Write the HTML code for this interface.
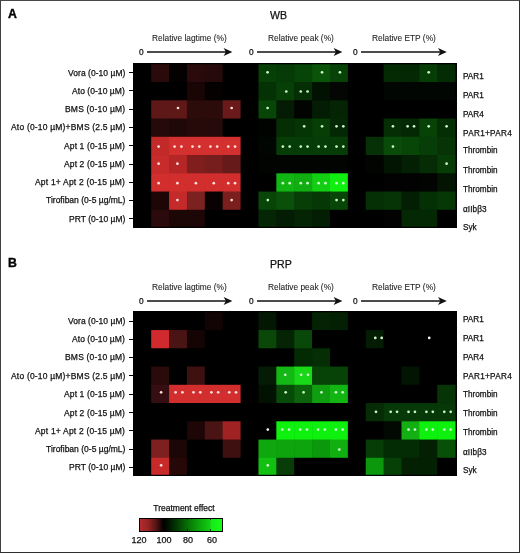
<!DOCTYPE html>
<html><head><meta charset="utf-8"><style>
html,body{margin:0;padding:0;background:#fff;}
body{width:520px;height:553px;position:relative;overflow:hidden;font-family:"Liberation Sans", sans-serif;color:#111;}
.frame{position:absolute;left:0;top:0;width:518px;height:551px;border:1px solid #2e2e2e;border-left-color:#404040;border-top-color:#484848;}
.t{position:absolute;white-space:nowrap;will-change:transform;-webkit-text-stroke:0.25px currentColor;}
.ar{position:absolute;overflow:visible;}
.hm{position:absolute;display:block;filter:blur(0.35px);}
.tk{position:absolute;left:129.2px;width:3.8px;height:1px;background:#000;}
.cb{position:absolute;left:138.7px;top:517.7px;width:82.6px;height:12px;border:1px solid #000;
background:linear-gradient(to right,#b42a2e 0%,#952323 10%,#521313 20%,#000 29%,#033a03 45%,#067006 58%,#0ca40c 72%,#12cc12 85%,#18e818 87%,#14ff14 100%);}
.cbt{position:absolute;width:1px;height:1.6px;background:rgba(0,0,0,0.7);}
</style></head><body>
<div class="frame"></div>
<div class="t" style="-webkit-text-stroke:0.35px #000;top:8.09px;font-size:12.3px;line-height:12.3px;font-weight:bold;color:#000;left:8.00px;">A</div>
<div class="t" style="top:10.13px;font-size:10.6px;line-height:10.6px;left:269.60px;">WB</div>
<div class="t" style="-webkit-text-stroke:0.08px #222;color:#222;top:34.13px;font-size:8.35px;line-height:8.35px;left:152.30px;">Relative lagtime (%)</div>
<div class="t" style="top:48.07px;font-size:8.3px;line-height:8.3px;left:138.60px;">0</div>
<svg class="ar" style="left:147.10px;top:47.20px" width="85.90" height="10" viewBox="0 0 85.90 10"><line x1="0" y1="5" x2="80.90" y2="5" stroke="#111" stroke-width="1.4"/><path d="M85.40 5 L76.60 0.9 L78.90 5 L76.60 9.1 Z" fill="#111"/></svg>
<div class="t" style="-webkit-text-stroke:0.08px #222;color:#222;top:34.13px;font-size:8.35px;line-height:8.35px;left:267.50px;">Relative peak (%)</div>
<div class="t" style="top:48.07px;font-size:8.3px;line-height:8.3px;left:248.90px;">0</div>
<svg class="ar" style="left:257.40px;top:47.20px" width="85.90" height="10" viewBox="0 0 85.90 10"><line x1="0" y1="5" x2="80.90" y2="5" stroke="#111" stroke-width="1.4"/><path d="M85.40 5 L76.60 0.9 L78.90 5 L76.60 9.1 Z" fill="#111"/></svg>
<div class="t" style="-webkit-text-stroke:0.08px #222;color:#222;top:34.13px;font-size:8.35px;line-height:8.35px;left:372.30px;">Relative ETP (%)</div>
<div class="t" style="top:48.07px;font-size:8.3px;line-height:8.3px;left:352.60px;">0</div>
<svg class="ar" style="left:361.10px;top:47.20px" width="86.30" height="10" viewBox="0 0 86.30 10"><line x1="0" y1="5" x2="81.30" y2="5" stroke="#111" stroke-width="1.4"/><path d="M85.80 5 L77.00 0.9 L79.30 5 L77.00 9.1 Z" fill="#111"/></svg>
<svg class="hm" style="left:133.0px;top:62.70px" width="324.00" height="165.10" viewBox="0 0 324.00 165.10"><rect x="0" y="0" width="324.00" height="165.10" fill="#000"/><rect x="0.30" y="0.80" width="18.48" height="18.85" fill="#000"/><rect x="18.18" y="0.80" width="18.48" height="18.85" fill="#2a0a0a"/><rect x="36.06" y="0.80" width="18.48" height="18.85" fill="#050101"/><rect x="53.94" y="0.80" width="18.48" height="18.85" fill="#2a0a0a"/><rect x="71.82" y="0.80" width="18.48" height="18.85" fill="#260a0a"/><rect x="89.70" y="0.80" width="18.48" height="18.85" fill="#000"/><rect x="107.58" y="0.80" width="18.48" height="18.85" fill="#000"/><rect x="125.46" y="0.80" width="18.48" height="18.85" fill="#074007"/><rect x="143.34" y="0.80" width="18.48" height="18.85" fill="#063a06"/><rect x="161.22" y="0.80" width="18.48" height="18.85" fill="#074407"/><rect x="179.10" y="0.80" width="18.48" height="18.85" fill="#095409"/><rect x="196.98" y="0.80" width="18.48" height="18.85" fill="#074207"/><rect x="214.86" y="0.80" width="18.48" height="18.85" fill="#000"/><rect x="232.74" y="0.80" width="18.48" height="18.85" fill="#000"/><rect x="250.62" y="0.80" width="18.48" height="18.85" fill="#042a04"/><rect x="268.50" y="0.80" width="18.48" height="18.85" fill="#042804"/><rect x="286.38" y="0.80" width="18.48" height="18.85" fill="#063c06"/><rect x="304.26" y="0.80" width="18.48" height="18.85" fill="#042c04"/><rect x="0.30" y="19.05" width="18.48" height="18.85" fill="#000"/><rect x="18.18" y="19.05" width="18.48" height="18.85" fill="#000"/><rect x="36.06" y="19.05" width="18.48" height="18.85" fill="#000"/><rect x="53.94" y="19.05" width="18.48" height="18.85" fill="#1a0505"/><rect x="71.82" y="19.05" width="18.48" height="18.85" fill="#050101"/><rect x="89.70" y="19.05" width="18.48" height="18.85" fill="#000"/><rect x="107.58" y="19.05" width="18.48" height="18.85" fill="#000"/><rect x="125.46" y="19.05" width="18.48" height="18.85" fill="#053205"/><rect x="143.34" y="19.05" width="18.48" height="18.85" fill="#074007"/><rect x="161.22" y="19.05" width="18.48" height="18.85" fill="#052e05"/><rect x="179.10" y="19.05" width="18.48" height="18.85" fill="#021202"/><rect x="196.98" y="19.05" width="18.48" height="18.85" fill="#040604"/><rect x="214.86" y="19.05" width="18.48" height="18.85" fill="#000"/><rect x="232.74" y="19.05" width="18.48" height="18.85" fill="#000"/><rect x="250.62" y="19.05" width="18.48" height="18.85" fill="#020602"/><rect x="268.50" y="19.05" width="18.48" height="18.85" fill="#020602"/><rect x="286.38" y="19.05" width="18.48" height="18.85" fill="#020602"/><rect x="304.26" y="19.05" width="18.48" height="18.85" fill="#020602"/><rect x="0.30" y="37.30" width="18.48" height="18.85" fill="#000"/><rect x="18.18" y="37.30" width="18.48" height="18.85" fill="#5e1818"/><rect x="36.06" y="37.30" width="18.48" height="18.85" fill="#5e1818"/><rect x="53.94" y="37.30" width="18.48" height="18.85" fill="#2c0b0b"/><rect x="71.82" y="37.30" width="18.48" height="18.85" fill="#2c0b0b"/><rect x="89.70" y="37.30" width="18.48" height="18.85" fill="#6a1a1a"/><rect x="107.58" y="37.30" width="18.48" height="18.85" fill="#000"/><rect x="125.46" y="37.30" width="18.48" height="18.85" fill="#074607"/><rect x="143.34" y="37.30" width="18.48" height="18.85" fill="#031c03"/><rect x="161.22" y="37.30" width="18.48" height="18.85" fill="#010401"/><rect x="179.10" y="37.30" width="18.48" height="18.85" fill="#031c03"/><rect x="196.98" y="37.30" width="18.48" height="18.85" fill="#042404"/><rect x="214.86" y="37.30" width="18.48" height="18.85" fill="#000"/><rect x="232.74" y="37.30" width="18.48" height="18.85" fill="#000"/><rect x="250.62" y="37.30" width="18.48" height="18.85" fill="#000"/><rect x="268.50" y="37.30" width="18.48" height="18.85" fill="#000"/><rect x="286.38" y="37.30" width="18.48" height="18.85" fill="#000"/><rect x="304.26" y="37.30" width="18.48" height="18.85" fill="#000"/><rect x="0.30" y="55.55" width="18.48" height="18.85" fill="#000"/><rect x="18.18" y="55.55" width="18.48" height="18.85" fill="#260a0a"/><rect x="36.06" y="55.55" width="18.48" height="18.85" fill="#200808"/><rect x="53.94" y="55.55" width="18.48" height="18.85" fill="#260a0a"/><rect x="71.82" y="55.55" width="18.48" height="18.85" fill="#260a0a"/><rect x="89.70" y="55.55" width="18.48" height="18.85" fill="#000"/><rect x="107.58" y="55.55" width="18.48" height="18.85" fill="#000"/><rect x="125.46" y="55.55" width="18.48" height="18.85" fill="#010301"/><rect x="143.34" y="55.55" width="18.48" height="18.85" fill="#052e05"/><rect x="161.22" y="55.55" width="18.48" height="18.85" fill="#053405"/><rect x="179.10" y="55.55" width="18.48" height="18.85" fill="#063e06"/><rect x="196.98" y="55.55" width="18.48" height="18.85" fill="#042804"/><rect x="214.86" y="55.55" width="18.48" height="18.85" fill="#000"/><rect x="232.74" y="55.55" width="18.48" height="18.85" fill="#000"/><rect x="250.62" y="55.55" width="18.48" height="18.85" fill="#052e05"/><rect x="268.50" y="55.55" width="18.48" height="18.85" fill="#042804"/><rect x="286.38" y="55.55" width="18.48" height="18.85" fill="#074207"/><rect x="304.26" y="55.55" width="18.48" height="18.85" fill="#052e05"/><rect x="0.30" y="73.80" width="18.48" height="18.85" fill="#000"/><rect x="18.18" y="73.80" width="18.48" height="18.85" fill="#c22a2a"/><rect x="36.06" y="73.80" width="18.48" height="18.85" fill="#d43030"/><rect x="53.94" y="73.80" width="18.48" height="18.85" fill="#d43030"/><rect x="71.82" y="73.80" width="18.48" height="18.85" fill="#d43030"/><rect x="89.70" y="73.80" width="18.48" height="18.85" fill="#d43030"/><rect x="107.58" y="73.80" width="18.48" height="18.85" fill="#000"/><rect x="125.46" y="73.80" width="18.48" height="18.85" fill="#020602"/><rect x="143.34" y="73.80" width="18.48" height="18.85" fill="#063c06"/><rect x="161.22" y="73.80" width="18.48" height="18.85" fill="#063c06"/><rect x="179.10" y="73.80" width="18.48" height="18.85" fill="#063c06"/><rect x="196.98" y="73.80" width="18.48" height="18.85" fill="#063c06"/><rect x="214.86" y="73.80" width="18.48" height="18.85" fill="#000"/><rect x="232.74" y="73.80" width="18.48" height="18.85" fill="#063006"/><rect x="250.62" y="73.80" width="18.48" height="18.85" fill="#094c09"/><rect x="268.50" y="73.80" width="18.48" height="18.85" fill="#084608"/><rect x="286.38" y="73.80" width="18.48" height="18.85" fill="#073e07"/><rect x="304.26" y="73.80" width="18.48" height="18.85" fill="#063406"/><rect x="0.30" y="92.05" width="18.48" height="18.85" fill="#000"/><rect x="18.18" y="92.05" width="18.48" height="18.85" fill="#c82b2b"/><rect x="36.06" y="92.05" width="18.48" height="18.85" fill="#b52727"/><rect x="53.94" y="92.05" width="18.48" height="18.85" fill="#801d1d"/><rect x="71.82" y="92.05" width="18.48" height="18.85" fill="#761e1e"/><rect x="89.70" y="92.05" width="18.48" height="18.85" fill="#661a1a"/><rect x="107.58" y="92.05" width="18.48" height="18.85" fill="#000"/><rect x="125.46" y="92.05" width="18.48" height="18.85" fill="#010401"/><rect x="143.34" y="92.05" width="18.48" height="18.85" fill="#010401"/><rect x="161.22" y="92.05" width="18.48" height="18.85" fill="#010401"/><rect x="179.10" y="92.05" width="18.48" height="18.85" fill="#010401"/><rect x="196.98" y="92.05" width="18.48" height="18.85" fill="#010401"/><rect x="214.86" y="92.05" width="18.48" height="18.85" fill="#000"/><rect x="232.74" y="92.05" width="18.48" height="18.85" fill="#010401"/><rect x="250.62" y="92.05" width="18.48" height="18.85" fill="#021402"/><rect x="268.50" y="92.05" width="18.48" height="18.85" fill="#042004"/><rect x="286.38" y="92.05" width="18.48" height="18.85" fill="#062c06"/><rect x="304.26" y="92.05" width="18.48" height="18.85" fill="#073c07"/><rect x="0.30" y="110.30" width="18.48" height="18.85" fill="#000"/><rect x="18.18" y="110.30" width="18.48" height="18.85" fill="#d22e2e"/><rect x="36.06" y="110.30" width="18.48" height="18.85" fill="#d22e2e"/><rect x="53.94" y="110.30" width="18.48" height="18.85" fill="#d22e2e"/><rect x="71.82" y="110.30" width="18.48" height="18.85" fill="#d22e2e"/><rect x="89.70" y="110.30" width="18.48" height="18.85" fill="#d22e2e"/><rect x="107.58" y="110.30" width="18.48" height="18.85" fill="#000"/><rect x="125.46" y="110.30" width="18.48" height="18.85" fill="#000"/><rect x="143.34" y="110.30" width="18.48" height="18.85" fill="#12b612"/><rect x="161.22" y="110.30" width="18.48" height="18.85" fill="#10ae10"/><rect x="179.10" y="110.30" width="18.48" height="18.85" fill="#14ce14"/><rect x="196.98" y="110.30" width="18.48" height="18.85" fill="#10f010"/><rect x="214.86" y="110.30" width="18.48" height="18.85" fill="#000"/><rect x="232.74" y="110.30" width="18.48" height="18.85" fill="#000"/><rect x="250.62" y="110.30" width="18.48" height="18.85" fill="#010201"/><rect x="268.50" y="110.30" width="18.48" height="18.85" fill="#010201"/><rect x="286.38" y="110.30" width="18.48" height="18.85" fill="#010401"/><rect x="304.26" y="110.30" width="18.48" height="18.85" fill="#031403"/><rect x="0.30" y="128.55" width="18.48" height="18.85" fill="#000"/><rect x="18.18" y="128.55" width="18.48" height="18.85" fill="#1e0606"/><rect x="36.06" y="128.55" width="18.48" height="18.85" fill="#c42a2a"/><rect x="53.94" y="128.55" width="18.48" height="18.85" fill="#7c2020"/><rect x="71.82" y="128.55" width="18.48" height="18.85" fill="#0a0202"/><rect x="89.70" y="128.55" width="18.48" height="18.85" fill="#7a1e1e"/><rect x="107.58" y="128.55" width="18.48" height="18.85" fill="#000"/><rect x="125.46" y="128.55" width="18.48" height="18.85" fill="#084608"/><rect x="143.34" y="128.55" width="18.48" height="18.85" fill="#0a500a"/><rect x="161.22" y="128.55" width="18.48" height="18.85" fill="#073e07"/><rect x="179.10" y="128.55" width="18.48" height="18.85" fill="#063806"/><rect x="196.98" y="128.55" width="18.48" height="18.85" fill="#084608"/><rect x="214.86" y="128.55" width="18.48" height="18.85" fill="#000"/><rect x="232.74" y="128.55" width="18.48" height="18.85" fill="#053005"/><rect x="250.62" y="128.55" width="18.48" height="18.85" fill="#063406"/><rect x="268.50" y="128.55" width="18.48" height="18.85" fill="#041e04"/><rect x="286.38" y="128.55" width="18.48" height="18.85" fill="#053005"/><rect x="304.26" y="128.55" width="18.48" height="18.85" fill="#063806"/><rect x="0.30" y="146.80" width="18.48" height="18.85" fill="#000"/><rect x="18.18" y="146.80" width="18.48" height="18.85" fill="#2a0a0a"/><rect x="36.06" y="146.80" width="18.48" height="18.85" fill="#1c0606"/><rect x="53.94" y="146.80" width="18.48" height="18.85" fill="#1c0606"/><rect x="71.82" y="146.80" width="18.48" height="18.85" fill="#000"/><rect x="89.70" y="146.80" width="18.48" height="18.85" fill="#000"/><rect x="107.58" y="146.80" width="18.48" height="18.85" fill="#000"/><rect x="125.46" y="146.80" width="18.48" height="18.85" fill="#042604"/><rect x="143.34" y="146.80" width="18.48" height="18.85" fill="#031c03"/><rect x="161.22" y="146.80" width="18.48" height="18.85" fill="#042404"/><rect x="179.10" y="146.80" width="18.48" height="18.85" fill="#031e03"/><rect x="196.98" y="146.80" width="18.48" height="18.85" fill="#000"/><rect x="214.86" y="146.80" width="18.48" height="18.85" fill="#000"/><rect x="232.74" y="146.80" width="18.48" height="18.85" fill="#000"/><rect x="250.62" y="146.80" width="18.48" height="18.85" fill="#010201"/><rect x="268.50" y="146.80" width="18.48" height="18.85" fill="#042804"/><rect x="286.38" y="146.80" width="18.48" height="18.85" fill="#042804"/><rect x="304.26" y="146.80" width="18.48" height="18.85" fill="#000"/><rect x="0.65" y="0.65" width="322.70" height="163.80" fill="none" stroke="#000" stroke-width="1.3"/><circle cx="134.60" cy="9.30" r="1.35" fill="#cdf5cd"/><circle cx="189.04" cy="9.30" r="1.35" fill="#cdf5cd"/><circle cx="206.92" cy="9.30" r="1.35" fill="#cdf5cd"/><circle cx="295.72" cy="9.30" r="1.35" fill="#cdf5cd"/><circle cx="153.28" cy="28.50" r="1.35" fill="#cdf5cd"/><circle cx="167.76" cy="28.50" r="1.35" fill="#cdf5cd"/><circle cx="174.56" cy="28.50" r="1.35" fill="#cdf5cd"/><circle cx="45.00" cy="45.00" r="1.35" fill="#ffdede"/><circle cx="98.64" cy="45.00" r="1.35" fill="#ffdede"/><circle cx="134.60" cy="45.00" r="1.35" fill="#cdf5cd"/><circle cx="171.16" cy="63.30" r="1.35" fill="#cdf5cd"/><circle cx="189.04" cy="63.30" r="1.35" fill="#cdf5cd"/><circle cx="203.52" cy="63.30" r="1.35" fill="#cdf5cd"/><circle cx="210.32" cy="63.30" r="1.35" fill="#cdf5cd"/><circle cx="259.96" cy="63.30" r="1.35" fill="#cdf5cd"/><circle cx="274.64" cy="63.30" r="1.35" fill="#cdf5cd"/><circle cx="281.04" cy="63.30" r="1.35" fill="#cdf5cd"/><circle cx="295.72" cy="63.30" r="1.35" fill="#cdf5cd"/><circle cx="313.60" cy="63.30" r="1.35" fill="#cdf5cd"/><circle cx="25.62" cy="83.60" r="1.35" fill="#ffdede"/><circle cx="41.60" cy="83.60" r="1.35" fill="#ffdede"/><circle cx="48.40" cy="83.60" r="1.35" fill="#ffdede"/><circle cx="59.48" cy="83.60" r="1.35" fill="#ffdede"/><circle cx="66.28" cy="83.60" r="1.35" fill="#ffdede"/><circle cx="77.36" cy="83.60" r="1.35" fill="#ffdede"/><circle cx="84.16" cy="83.60" r="1.35" fill="#ffdede"/><circle cx="95.24" cy="83.60" r="1.35" fill="#ffdede"/><circle cx="102.04" cy="83.60" r="1.35" fill="#ffdede"/><circle cx="149.88" cy="83.60" r="1.35" fill="#cdf5cd"/><circle cx="156.68" cy="83.60" r="1.35" fill="#cdf5cd"/><circle cx="167.76" cy="83.60" r="1.35" fill="#cdf5cd"/><circle cx="174.56" cy="83.60" r="1.35" fill="#cdf5cd"/><circle cx="185.64" cy="83.60" r="1.35" fill="#cdf5cd"/><circle cx="192.44" cy="83.60" r="1.35" fill="#cdf5cd"/><circle cx="203.52" cy="83.60" r="1.35" fill="#cdf5cd"/><circle cx="210.32" cy="83.60" r="1.35" fill="#cdf5cd"/><circle cx="259.96" cy="83.60" r="1.35" fill="#cdf5cd"/><circle cx="25.62" cy="100.70" r="1.35" fill="#ffdede"/><circle cx="44.40" cy="100.70" r="1.35" fill="#ffdede"/><circle cx="313.60" cy="100.70" r="1.35" fill="#cdf5cd"/><circle cx="25.62" cy="120.20" r="1.35" fill="#ffdede"/><circle cx="44.40" cy="120.20" r="1.35" fill="#ffdede"/><circle cx="62.88" cy="120.20" r="1.35" fill="#ffdede"/><circle cx="80.76" cy="120.20" r="1.35" fill="#ffdede"/><circle cx="95.24" cy="120.20" r="1.35" fill="#ffdede"/><circle cx="102.04" cy="120.20" r="1.35" fill="#ffdede"/><circle cx="149.88" cy="120.20" r="1.35" fill="#cdf5cd"/><circle cx="156.68" cy="120.20" r="1.35" fill="#cdf5cd"/><circle cx="167.76" cy="120.20" r="1.35" fill="#cdf5cd"/><circle cx="174.56" cy="120.20" r="1.35" fill="#cdf5cd"/><circle cx="185.64" cy="120.20" r="1.35" fill="#cdf5cd"/><circle cx="192.44" cy="120.20" r="1.35" fill="#cdf5cd"/><circle cx="203.52" cy="120.20" r="1.35" fill="#cdf5cd"/><circle cx="210.32" cy="120.20" r="1.35" fill="#cdf5cd"/><circle cx="44.40" cy="137.10" r="1.35" fill="#ffdede"/><circle cx="98.64" cy="137.10" r="1.35" fill="#ffdede"/><circle cx="134.80" cy="137.10" r="1.35" fill="#cdf5cd"/><circle cx="203.52" cy="137.10" r="1.35" fill="#cdf5cd"/><circle cx="210.32" cy="137.10" r="1.35" fill="#cdf5cd"/></svg>
<div class="tk" style="top:72px"></div>
<div class="t" style="top:68.60px;font-size:8.5px;line-height:8.5px;letter-spacing:0.04px;right:394.96px;text-align:right;">Vora (0-10 µM)</div>
<div class="t" style="top:72.86px;font-size:8.2px;line-height:8.2px;left:462.80px;">PAR1</div>
<div class="tk" style="top:90px"></div>
<div class="t" style="top:86.80px;font-size:8.5px;line-height:8.5px;letter-spacing:0.05px;right:394.95px;text-align:right;">Ato (0-10 µM)</div>
<div class="t" style="top:91.66px;font-size:8.2px;line-height:8.2px;left:462.80px;">PAR1</div>
<div class="tk" style="top:109px"></div>
<div class="t" style="top:104.90px;font-size:8.5px;line-height:8.5px;letter-spacing:0.2px;right:394.80px;text-align:right;">BMS (0-10 µM)</div>
<div class="t" style="top:110.66px;font-size:8.2px;line-height:8.2px;left:462.80px;">PAR4</div>
<div class="tk" style="top:127px"></div>
<div class="t" style="top:123.10px;font-size:8.5px;line-height:8.5px;letter-spacing:0.19px;right:394.81px;text-align:right;">Ato (0-10 µM)+BMS (2.5 µM)</div>
<div class="t" style="top:129.56px;font-size:8.2px;line-height:8.2px;letter-spacing:0.3px;left:462.80px;">PAR1+PAR4</div>
<div class="tk" style="top:145px"></div>
<div class="t" style="top:141.60px;font-size:8.5px;line-height:8.5px;letter-spacing:0.12px;right:394.88px;text-align:right;">Apt 1 (0-15 µM)</div>
<div class="t" style="top:147.36px;font-size:8.2px;line-height:8.2px;left:462.80px;">Thrombin</div>
<div class="tk" style="top:164px"></div>
<div class="t" style="top:160.00px;font-size:8.5px;line-height:8.5px;letter-spacing:0.12px;right:394.88px;text-align:right;">Apt 2 (0-15 µM)</div>
<div class="t" style="top:166.76px;font-size:8.2px;line-height:8.2px;left:462.80px;">Thrombin</div>
<div class="tk" style="top:182px"></div>
<div class="t" style="top:178.30px;font-size:8.5px;line-height:8.5px;letter-spacing:0.19px;right:394.81px;text-align:right;">Apt 1+ Apt 2 (0-15 µM)</div>
<div class="t" style="top:186.46px;font-size:8.2px;line-height:8.2px;left:462.80px;">Thrombin</div>
<div class="tk" style="top:200px"></div>
<div class="t" style="top:196.40px;font-size:8.5px;line-height:8.5px;letter-spacing:0.01px;right:394.99px;text-align:right;">Tirofiban (0-5 µg/mL)</div>
<div class="t" style="top:205.86px;font-size:8.2px;line-height:8.2px;letter-spacing:0.08px;left:462.80px;">αIIbβ3</div>
<div class="tk" style="top:218px"></div>
<div class="t" style="top:214.70px;font-size:8.5px;line-height:8.5px;letter-spacing:0.03px;right:394.97px;text-align:right;">PRT (0-10 µM)</div>
<div class="t" style="top:224.26px;font-size:8.2px;line-height:8.2px;left:462.80px;">Syk</div>
<div class="t" style="-webkit-text-stroke:0.35px #000;top:256.59px;font-size:12.3px;line-height:12.3px;font-weight:bold;color:#000;left:8.00px;">B</div>
<div class="t" style="top:258.63px;font-size:10.6px;line-height:10.6px;left:269.60px;">PRP</div>
<div class="t" style="-webkit-text-stroke:0.08px #222;color:#222;top:282.63px;font-size:8.35px;line-height:8.35px;left:152.30px;">Relative lagtime (%)</div>
<div class="t" style="top:296.57px;font-size:8.3px;line-height:8.3px;left:138.60px;">0</div>
<svg class="ar" style="left:147.10px;top:295.70px" width="85.90" height="10" viewBox="0 0 85.90 10"><line x1="0" y1="5" x2="80.90" y2="5" stroke="#111" stroke-width="1.4"/><path d="M85.40 5 L76.60 0.9 L78.90 5 L76.60 9.1 Z" fill="#111"/></svg>
<div class="t" style="-webkit-text-stroke:0.08px #222;color:#222;top:282.63px;font-size:8.35px;line-height:8.35px;left:267.50px;">Relative peak (%)</div>
<div class="t" style="top:296.57px;font-size:8.3px;line-height:8.3px;left:248.90px;">0</div>
<svg class="ar" style="left:257.40px;top:295.70px" width="85.90" height="10" viewBox="0 0 85.90 10"><line x1="0" y1="5" x2="80.90" y2="5" stroke="#111" stroke-width="1.4"/><path d="M85.40 5 L76.60 0.9 L78.90 5 L76.60 9.1 Z" fill="#111"/></svg>
<div class="t" style="-webkit-text-stroke:0.08px #222;color:#222;top:282.63px;font-size:8.35px;line-height:8.35px;left:372.30px;">Relative ETP (%)</div>
<div class="t" style="top:296.57px;font-size:8.3px;line-height:8.3px;left:352.60px;">0</div>
<svg class="ar" style="left:361.10px;top:295.70px" width="86.30" height="10" viewBox="0 0 86.30 10"><line x1="0" y1="5" x2="81.30" y2="5" stroke="#111" stroke-width="1.4"/><path d="M85.80 5 L77.00 0.9 L79.30 5 L77.00 9.1 Z" fill="#111"/></svg>
<svg class="hm" style="left:133.0px;top:311.20px" width="324.00" height="165.10" viewBox="0 0 324.00 165.10"><rect x="0" y="0" width="324.00" height="165.10" fill="#000"/><rect x="0.30" y="0.80" width="18.48" height="18.85" fill="#000"/><rect x="18.18" y="0.80" width="18.48" height="18.85" fill="#000"/><rect x="36.06" y="0.80" width="18.48" height="18.85" fill="#000"/><rect x="53.94" y="0.80" width="18.48" height="18.85" fill="#000"/><rect x="71.82" y="0.80" width="18.48" height="18.85" fill="#120404"/><rect x="89.70" y="0.80" width="18.48" height="18.85" fill="#000"/><rect x="107.58" y="0.80" width="18.48" height="18.85" fill="#000"/><rect x="125.46" y="0.80" width="18.48" height="18.85" fill="#031803"/><rect x="143.34" y="0.80" width="18.48" height="18.85" fill="#000"/><rect x="161.22" y="0.80" width="18.48" height="18.85" fill="#000"/><rect x="179.10" y="0.80" width="18.48" height="18.85" fill="#042204"/><rect x="196.98" y="0.80" width="18.48" height="18.85" fill="#042004"/><rect x="214.86" y="0.80" width="18.48" height="18.85" fill="#000"/><rect x="232.74" y="0.80" width="18.48" height="18.85" fill="#000"/><rect x="250.62" y="0.80" width="18.48" height="18.85" fill="#000"/><rect x="268.50" y="0.80" width="18.48" height="18.85" fill="#000"/><rect x="286.38" y="0.80" width="18.48" height="18.85" fill="#000"/><rect x="304.26" y="0.80" width="18.48" height="18.85" fill="#000"/><rect x="0.30" y="19.05" width="18.48" height="18.85" fill="#000"/><rect x="18.18" y="19.05" width="18.48" height="18.85" fill="#d02a2e"/><rect x="36.06" y="19.05" width="18.48" height="18.85" fill="#4a1414"/><rect x="53.94" y="19.05" width="18.48" height="18.85" fill="#140404"/><rect x="71.82" y="19.05" width="18.48" height="18.85" fill="#000"/><rect x="89.70" y="19.05" width="18.48" height="18.85" fill="#000"/><rect x="107.58" y="19.05" width="18.48" height="18.85" fill="#000"/><rect x="125.46" y="19.05" width="18.48" height="18.85" fill="#094809"/><rect x="143.34" y="19.05" width="18.48" height="18.85" fill="#042404"/><rect x="161.22" y="19.05" width="18.48" height="18.85" fill="#094809"/><rect x="179.10" y="19.05" width="18.48" height="18.85" fill="#000"/><rect x="196.98" y="19.05" width="18.48" height="18.85" fill="#000"/><rect x="214.86" y="19.05" width="18.48" height="18.85" fill="#000"/><rect x="232.74" y="19.05" width="18.48" height="18.85" fill="#031c03"/><rect x="250.62" y="19.05" width="18.48" height="18.85" fill="#000"/><rect x="268.50" y="19.05" width="18.48" height="18.85" fill="#000"/><rect x="286.38" y="19.05" width="18.48" height="18.85" fill="#000"/><rect x="304.26" y="19.05" width="18.48" height="18.85" fill="#000"/><rect x="0.30" y="37.30" width="18.48" height="18.85" fill="#000"/><rect x="18.18" y="37.30" width="18.48" height="18.85" fill="#000"/><rect x="36.06" y="37.30" width="18.48" height="18.85" fill="#000"/><rect x="53.94" y="37.30" width="18.48" height="18.85" fill="#000"/><rect x="71.82" y="37.30" width="18.48" height="18.85" fill="#000"/><rect x="89.70" y="37.30" width="18.48" height="18.85" fill="#000"/><rect x="107.58" y="37.30" width="18.48" height="18.85" fill="#000"/><rect x="125.46" y="37.30" width="18.48" height="18.85" fill="#000"/><rect x="143.34" y="37.30" width="18.48" height="18.85" fill="#000"/><rect x="161.22" y="37.30" width="18.48" height="18.85" fill="#042a04"/><rect x="179.10" y="37.30" width="18.48" height="18.85" fill="#052e05"/><rect x="196.98" y="37.30" width="18.48" height="18.85" fill="#000"/><rect x="214.86" y="37.30" width="18.48" height="18.85" fill="#000"/><rect x="232.74" y="37.30" width="18.48" height="18.85" fill="#000"/><rect x="250.62" y="37.30" width="18.48" height="18.85" fill="#000"/><rect x="268.50" y="37.30" width="18.48" height="18.85" fill="#000"/><rect x="286.38" y="37.30" width="18.48" height="18.85" fill="#000"/><rect x="304.26" y="37.30" width="18.48" height="18.85" fill="#000"/><rect x="0.30" y="55.55" width="18.48" height="18.85" fill="#000"/><rect x="18.18" y="55.55" width="18.48" height="18.85" fill="#2a0a0a"/><rect x="36.06" y="55.55" width="18.48" height="18.85" fill="#000"/><rect x="53.94" y="55.55" width="18.48" height="18.85" fill="#3e1010"/><rect x="71.82" y="55.55" width="18.48" height="18.85" fill="#000"/><rect x="89.70" y="55.55" width="18.48" height="18.85" fill="#000"/><rect x="107.58" y="55.55" width="18.48" height="18.85" fill="#000"/><rect x="125.46" y="55.55" width="18.48" height="18.85" fill="#041c04"/><rect x="143.34" y="55.55" width="18.48" height="18.85" fill="#14b814"/><rect x="161.22" y="55.55" width="18.48" height="18.85" fill="#18d818"/><rect x="179.10" y="55.55" width="18.48" height="18.85" fill="#074207"/><rect x="196.98" y="55.55" width="18.48" height="18.85" fill="#074207"/><rect x="214.86" y="55.55" width="18.48" height="18.85" fill="#000"/><rect x="232.74" y="55.55" width="18.48" height="18.85" fill="#000"/><rect x="250.62" y="55.55" width="18.48" height="18.85" fill="#000"/><rect x="268.50" y="55.55" width="18.48" height="18.85" fill="#021402"/><rect x="286.38" y="55.55" width="18.48" height="18.85" fill="#000"/><rect x="304.26" y="55.55" width="18.48" height="18.85" fill="#000"/><rect x="0.30" y="73.80" width="18.48" height="18.85" fill="#000"/><rect x="18.18" y="73.80" width="18.48" height="18.85" fill="#360d10"/><rect x="36.06" y="73.80" width="18.48" height="18.85" fill="#d22e2e"/><rect x="53.94" y="73.80" width="18.48" height="18.85" fill="#d22e2e"/><rect x="71.82" y="73.80" width="18.48" height="18.85" fill="#d22e2e"/><rect x="89.70" y="73.80" width="18.48" height="18.85" fill="#d22e2e"/><rect x="107.58" y="73.80" width="18.48" height="18.85" fill="#000"/><rect x="125.46" y="73.80" width="18.48" height="18.85" fill="#021202"/><rect x="143.34" y="73.80" width="18.48" height="18.85" fill="#084a08"/><rect x="161.22" y="73.80" width="18.48" height="18.85" fill="#0b640b"/><rect x="179.10" y="73.80" width="18.48" height="18.85" fill="#0f9e0f"/><rect x="196.98" y="73.80" width="18.48" height="18.85" fill="#12b612"/><rect x="214.86" y="73.80" width="18.48" height="18.85" fill="#000"/><rect x="232.74" y="73.80" width="18.48" height="18.85" fill="#000"/><rect x="250.62" y="73.80" width="18.48" height="18.85" fill="#000"/><rect x="268.50" y="73.80" width="18.48" height="18.85" fill="#000"/><rect x="286.38" y="73.80" width="18.48" height="18.85" fill="#000"/><rect x="304.26" y="73.80" width="18.48" height="18.85" fill="#073407"/><rect x="0.30" y="92.05" width="18.48" height="18.85" fill="#000"/><rect x="18.18" y="92.05" width="18.48" height="18.85" fill="#000"/><rect x="36.06" y="92.05" width="18.48" height="18.85" fill="#000"/><rect x="53.94" y="92.05" width="18.48" height="18.85" fill="#000"/><rect x="71.82" y="92.05" width="18.48" height="18.85" fill="#000"/><rect x="89.70" y="92.05" width="18.48" height="18.85" fill="#000"/><rect x="107.58" y="92.05" width="18.48" height="18.85" fill="#000"/><rect x="125.46" y="92.05" width="18.48" height="18.85" fill="#000"/><rect x="143.34" y="92.05" width="18.48" height="18.85" fill="#000"/><rect x="161.22" y="92.05" width="18.48" height="18.85" fill="#000"/><rect x="179.10" y="92.05" width="18.48" height="18.85" fill="#000"/><rect x="196.98" y="92.05" width="18.48" height="18.85" fill="#000"/><rect x="214.86" y="92.05" width="18.48" height="18.85" fill="#000"/><rect x="232.74" y="92.05" width="18.48" height="18.85" fill="#052c05"/><rect x="250.62" y="92.05" width="18.48" height="18.85" fill="#073807"/><rect x="268.50" y="92.05" width="18.48" height="18.85" fill="#073807"/><rect x="286.38" y="92.05" width="18.48" height="18.85" fill="#073807"/><rect x="304.26" y="92.05" width="18.48" height="18.85" fill="#073807"/><rect x="0.30" y="110.30" width="18.48" height="18.85" fill="#000"/><rect x="18.18" y="110.30" width="18.48" height="18.85" fill="#000"/><rect x="36.06" y="110.30" width="18.48" height="18.85" fill="#000"/><rect x="53.94" y="110.30" width="18.48" height="18.85" fill="#1e0606"/><rect x="71.82" y="110.30" width="18.48" height="18.85" fill="#4a1414"/><rect x="89.70" y="110.30" width="18.48" height="18.85" fill="#a02222"/><rect x="107.58" y="110.30" width="18.48" height="18.85" fill="#000"/><rect x="125.46" y="110.30" width="18.48" height="18.85" fill="#000"/><rect x="143.34" y="110.30" width="18.48" height="18.85" fill="#0ef00e"/><rect x="161.22" y="110.30" width="18.48" height="18.85" fill="#0ef00e"/><rect x="179.10" y="110.30" width="18.48" height="18.85" fill="#0ef00e"/><rect x="196.98" y="110.30" width="18.48" height="18.85" fill="#0ef00e"/><rect x="214.86" y="110.30" width="18.48" height="18.85" fill="#000"/><rect x="232.74" y="110.30" width="18.48" height="18.85" fill="#000"/><rect x="250.62" y="110.30" width="18.48" height="18.85" fill="#020802"/><rect x="268.50" y="110.30" width="18.48" height="18.85" fill="#12b012"/><rect x="286.38" y="110.30" width="18.48" height="18.85" fill="#0ef00e"/><rect x="304.26" y="110.30" width="18.48" height="18.85" fill="#0ef00e"/><rect x="0.30" y="128.55" width="18.48" height="18.85" fill="#000"/><rect x="18.18" y="128.55" width="18.48" height="18.85" fill="#7e2020"/><rect x="36.06" y="128.55" width="18.48" height="18.85" fill="#1c0606"/><rect x="53.94" y="128.55" width="18.48" height="18.85" fill="#000"/><rect x="71.82" y="128.55" width="18.48" height="18.85" fill="#000"/><rect x="89.70" y="128.55" width="18.48" height="18.85" fill="#3e1010"/><rect x="107.58" y="128.55" width="18.48" height="18.85" fill="#000"/><rect x="125.46" y="128.55" width="18.48" height="18.85" fill="#0ea80e"/><rect x="143.34" y="128.55" width="18.48" height="18.85" fill="#0ea40e"/><rect x="161.22" y="128.55" width="18.48" height="18.85" fill="#0ea40e"/><rect x="179.10" y="128.55" width="18.48" height="18.85" fill="#0c980c"/><rect x="196.98" y="128.55" width="18.48" height="18.85" fill="#10b010"/><rect x="214.86" y="128.55" width="18.48" height="18.85" fill="#000"/><rect x="232.74" y="128.55" width="18.48" height="18.85" fill="#063c06"/><rect x="250.62" y="128.55" width="18.48" height="18.85" fill="#042c04"/><rect x="268.50" y="128.55" width="18.48" height="18.85" fill="#042c04"/><rect x="286.38" y="128.55" width="18.48" height="18.85" fill="#032003"/><rect x="304.26" y="128.55" width="18.48" height="18.85" fill="#085008"/><rect x="0.30" y="146.80" width="18.48" height="18.85" fill="#000"/><rect x="18.18" y="146.80" width="18.48" height="18.85" fill="#c82a2a"/><rect x="36.06" y="146.80" width="18.48" height="18.85" fill="#260808"/><rect x="53.94" y="146.80" width="18.48" height="18.85" fill="#000"/><rect x="71.82" y="146.80" width="18.48" height="18.85" fill="#000"/><rect x="89.70" y="146.80" width="18.48" height="18.85" fill="#000"/><rect x="107.58" y="146.80" width="18.48" height="18.85" fill="#000"/><rect x="125.46" y="146.80" width="18.48" height="18.85" fill="#12c012"/><rect x="143.34" y="146.80" width="18.48" height="18.85" fill="#083c08"/><rect x="161.22" y="146.80" width="18.48" height="18.85" fill="#000"/><rect x="179.10" y="146.80" width="18.48" height="18.85" fill="#000"/><rect x="196.98" y="146.80" width="18.48" height="18.85" fill="#000"/><rect x="214.86" y="146.80" width="18.48" height="18.85" fill="#000"/><rect x="232.74" y="146.80" width="18.48" height="18.85" fill="#0c980c"/><rect x="250.62" y="146.80" width="18.48" height="18.85" fill="#064006"/><rect x="268.50" y="146.80" width="18.48" height="18.85" fill="#032003"/><rect x="286.38" y="146.80" width="18.48" height="18.85" fill="#032003"/><rect x="304.26" y="146.80" width="18.48" height="18.85" fill="#000"/><rect x="0.65" y="0.65" width="322.70" height="163.80" fill="none" stroke="#000" stroke-width="1.3"/><circle cx="242.28" cy="26.90" r="1.35" fill="#cdf5cd"/><circle cx="248.68" cy="26.90" r="1.35" fill="#cdf5cd"/><circle cx="296.22" cy="26.90" r="1.35" fill="#f4f4f4"/><circle cx="152.28" cy="63.80" r="1.35" fill="#cdf5cd"/><circle cx="168.16" cy="63.80" r="1.35" fill="#cdf5cd"/><circle cx="174.96" cy="63.80" r="1.35" fill="#cdf5cd"/><circle cx="28.12" cy="81.30" r="1.35" fill="#ffdede"/><circle cx="42.60" cy="81.30" r="1.35" fill="#ffdede"/><circle cx="49.40" cy="81.30" r="1.35" fill="#ffdede"/><circle cx="60.48" cy="81.30" r="1.35" fill="#ffdede"/><circle cx="67.28" cy="81.30" r="1.35" fill="#ffdede"/><circle cx="78.36" cy="81.30" r="1.35" fill="#ffdede"/><circle cx="85.16" cy="81.30" r="1.35" fill="#ffdede"/><circle cx="96.24" cy="81.30" r="1.35" fill="#ffdede"/><circle cx="103.04" cy="81.30" r="1.35" fill="#ffdede"/><circle cx="152.68" cy="81.30" r="1.35" fill="#cdf5cd"/><circle cx="170.56" cy="81.30" r="1.35" fill="#cdf5cd"/><circle cx="188.44" cy="81.30" r="1.35" fill="#cdf5cd"/><circle cx="202.92" cy="81.30" r="1.35" fill="#cdf5cd"/><circle cx="209.72" cy="81.30" r="1.35" fill="#cdf5cd"/><circle cx="242.98" cy="100.80" r="1.35" fill="#cdf5cd"/><circle cx="257.66" cy="100.80" r="1.35" fill="#cdf5cd"/><circle cx="264.06" cy="100.80" r="1.35" fill="#cdf5cd"/><circle cx="275.54" cy="100.80" r="1.35" fill="#cdf5cd"/><circle cx="281.94" cy="100.80" r="1.35" fill="#cdf5cd"/><circle cx="293.42" cy="100.80" r="1.35" fill="#cdf5cd"/><circle cx="299.82" cy="100.80" r="1.35" fill="#cdf5cd"/><circle cx="311.30" cy="100.80" r="1.35" fill="#cdf5cd"/><circle cx="317.70" cy="100.80" r="1.35" fill="#cdf5cd"/><circle cx="134.80" cy="118.60" r="1.35" fill="#f4f4f4"/><circle cx="149.28" cy="118.60" r="1.35" fill="#cdf5cd"/><circle cx="156.08" cy="118.60" r="1.35" fill="#cdf5cd"/><circle cx="167.16" cy="118.60" r="1.35" fill="#cdf5cd"/><circle cx="173.96" cy="118.60" r="1.35" fill="#cdf5cd"/><circle cx="185.04" cy="118.60" r="1.35" fill="#cdf5cd"/><circle cx="191.84" cy="118.60" r="1.35" fill="#cdf5cd"/><circle cx="202.92" cy="118.60" r="1.35" fill="#cdf5cd"/><circle cx="209.72" cy="118.60" r="1.35" fill="#cdf5cd"/><circle cx="275.54" cy="118.60" r="1.35" fill="#cdf5cd"/><circle cx="281.94" cy="118.60" r="1.35" fill="#cdf5cd"/><circle cx="293.42" cy="118.60" r="1.35" fill="#cdf5cd"/><circle cx="299.82" cy="118.60" r="1.35" fill="#cdf5cd"/><circle cx="311.30" cy="118.60" r="1.35" fill="#cdf5cd"/><circle cx="317.70" cy="118.60" r="1.35" fill="#cdf5cd"/><circle cx="206.32" cy="138.60" r="1.35" fill="#cdf5cd"/><circle cx="28.12" cy="154.30" r="1.35" fill="#ffdede"/><circle cx="134.80" cy="154.30" r="1.35" fill="#cdf5cd"/></svg>
<div class="tk" style="top:321px"></div>
<div class="t" style="top:317.10px;font-size:8.5px;line-height:8.5px;letter-spacing:0.04px;right:394.96px;text-align:right;">Vora (0-10 µM)</div>
<div class="t" style="top:315.76px;font-size:8.2px;line-height:8.2px;left:462.80px;">PAR1</div>
<div class="tk" style="top:339px"></div>
<div class="t" style="top:335.30px;font-size:8.5px;line-height:8.5px;letter-spacing:0.05px;right:394.95px;text-align:right;">Ato (0-10 µM)</div>
<div class="t" style="top:334.76px;font-size:8.2px;line-height:8.2px;left:462.80px;">PAR1</div>
<div class="tk" style="top:357px"></div>
<div class="t" style="top:353.40px;font-size:8.5px;line-height:8.5px;letter-spacing:0.2px;right:394.80px;text-align:right;">BMS (0-10 µM)</div>
<div class="t" style="top:354.16px;font-size:8.2px;line-height:8.2px;left:462.80px;">PAR4</div>
<div class="tk" style="top:375px"></div>
<div class="t" style="top:371.60px;font-size:8.5px;line-height:8.5px;letter-spacing:0.19px;right:394.81px;text-align:right;">Ato (0-10 µM)+BMS (2.5 µM)</div>
<div class="t" style="top:372.96px;font-size:8.2px;line-height:8.2px;letter-spacing:0.3px;left:462.80px;">PAR1+PAR4</div>
<div class="tk" style="top:394px"></div>
<div class="t" style="top:390.10px;font-size:8.5px;line-height:8.5px;letter-spacing:0.12px;right:394.88px;text-align:right;">Apt 1 (0-15 µM)</div>
<div class="t" style="top:390.96px;font-size:8.2px;line-height:8.2px;left:462.80px;">Thrombin</div>
<div class="tk" style="top:412px"></div>
<div class="t" style="top:408.50px;font-size:8.5px;line-height:8.5px;letter-spacing:0.12px;right:394.88px;text-align:right;">Apt 2 (0-15 µM)</div>
<div class="t" style="top:410.06px;font-size:8.2px;line-height:8.2px;left:462.80px;">Thrombin</div>
<div class="tk" style="top:430px"></div>
<div class="t" style="top:426.80px;font-size:8.5px;line-height:8.5px;letter-spacing:0.19px;right:394.81px;text-align:right;">Apt 1+ Apt 2 (0-15 µM)</div>
<div class="t" style="top:429.46px;font-size:8.2px;line-height:8.2px;left:462.80px;">Thrombin</div>
<div class="tk" style="top:449px"></div>
<div class="t" style="top:444.90px;font-size:8.5px;line-height:8.5px;letter-spacing:0.01px;right:394.99px;text-align:right;">Tirofiban (0-5 µg/mL)</div>
<div class="t" style="top:448.86px;font-size:8.2px;line-height:8.2px;letter-spacing:0.08px;left:462.80px;">αIIbβ3</div>
<div class="tk" style="top:467px"></div>
<div class="t" style="top:463.20px;font-size:8.5px;line-height:8.5px;letter-spacing:0.03px;right:394.97px;text-align:right;">PRT (0-10 µM)</div>
<div class="t" style="top:466.86px;font-size:8.2px;line-height:8.2px;left:462.80px;">Syk</div>
<div class="t" style="top:503.60px;font-size:8.5px;line-height:8.5px;left:83.60px;width:200px;text-align:center;">Treatment effect</div>
<div class="cb"></div>
<div class="cbt" style="left:163px;top:529.4px"></div>
<div class="cbt" style="left:187.2px;top:529.4px"></div>
<div class="cbt" style="left:210.2px;top:529.4px"></div>
<div class="cbt" style="left:187.2px;top:518.7px"></div>
<div class="cbt" style="left:210.2px;top:518.7px"></div>
<div class="t" style="top:535.78px;font-size:9px;line-height:9px;left:39.40px;width:200px;text-align:center;">120</div>
<div class="t" style="top:535.78px;font-size:9px;line-height:9px;left:64.10px;width:200px;text-align:center;">100</div>
<div class="t" style="top:535.78px;font-size:9px;line-height:9px;left:87.70px;width:200px;text-align:center;">80</div>
<div class="t" style="top:535.78px;font-size:9px;line-height:9px;left:111.70px;width:200px;text-align:center;">60</div>
</body></html>
